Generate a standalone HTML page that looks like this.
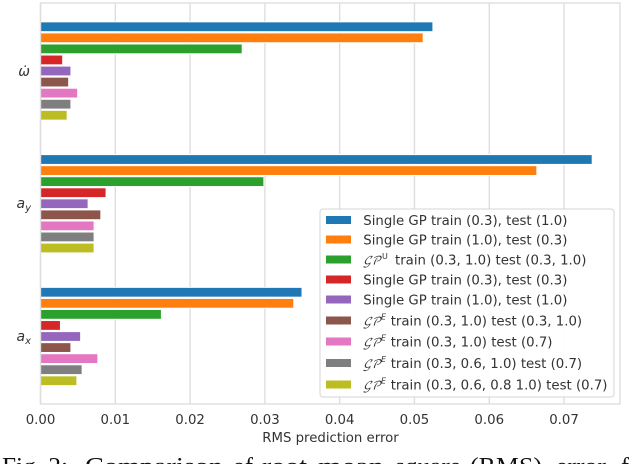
<!DOCTYPE html>
<html>
<head>
<meta charset="utf-8">
<title>RMS prediction error chart</title>
<style>
html,body{margin:0;padding:0;background:#fff;width:640px;height:464px;overflow:hidden}
svg{display:block}
text{font-family:"DejaVu Sans","Liberation Sans",sans-serif;fill:#333}
.tick,.leg{font-size:13.3px}
.sup{font-size:8px}
.gp{font-family:"DejaVu Math TeX Gyre","DejaVu Serif","Liberation Serif",serif;font-style:italic;font-size:11.5px}
.cap{font-family:"Liberation Serif",serif;font-size:24px;fill:#111}
</style>
</head>
<body>
<svg id="chart" width="640" height="464" viewBox="0 0 640 464" xmlns="http://www.w3.org/2000/svg">
  <g id="grid"></g>
  <g id="bars"></g>
  <g id="spines">
    <rect x="40.5" y="3" width="579.5" height="401" fill="none" stroke="#dedede" stroke-width="1.4"/>
  </g>
  <g id="xticks"></g>
  <text class="tick" x="330.5" y="442" text-anchor="middle">RMS prediction error</text>
  <g font-size="13">
    <text id="yl0" x="30" y="76" text-anchor="end" font-style="italic" font-size="14">ω&#775;</text>
    <text id="yl1" x="31" y="208" text-anchor="end" font-style="italic" font-size="14">a<tspan font-size="10" dy="3">y</tspan></text>
    <text id="yl2" x="31" y="341" text-anchor="end" font-style="italic" font-size="14">a<tspan font-size="10" dy="3">x</tspan></text>
  </g>
  <g id="legend">
    <rect x="320" y="209" width="294" height="188" rx="3" fill="#fff" fill-opacity="0.9" stroke="#d4d4d4" stroke-width="1"/>
    <g><rect x="326" y="216" width="25" height="8" fill="#1f77b4"/><text class="leg" x="363.3" y="225">Single GP train (0.3), test (1.0)</text></g>
    <g><rect x="326" y="235.5" width="25" height="8" fill="#ff7f0e"/><text class="leg" x="363.3" y="244.5">Single GP train (1.0), test (0.3)</text></g>
    <g><rect x="326" y="255.5" width="25" height="8" fill="#2ca02c"/><text class="gp" x="363" y="264.5" textLength="18" lengthAdjust="spacingAndGlyphs">𝒢𝒫</text><text class="sup" x="382" y="259">U</text><text class="leg" x="395" y="264.5">train (0.3, 1.0) test (0.3, 1.0)</text></g>
    <g><rect x="326" y="275.5" width="25" height="8" fill="#d62728"/><text class="leg" x="363.3" y="284.5">Single GP train (0.3), test (0.3)</text></g>
    <g><rect x="326" y="295.5" width="25" height="8" fill="#9467bd"/><text class="leg" x="363.3" y="304.5">Single GP train (1.0), test (1.0)</text></g>
    <g><rect x="326" y="316.5" width="25" height="8" fill="#8c564b"/><text class="gp" x="363" y="325.5" textLength="18" lengthAdjust="spacingAndGlyphs">𝒢𝒫</text><text class="sup" x="381" y="319.5" font-style="italic">E</text><text class="leg" x="390.7" y="325.5">train (0.3, 1.0) test (0.3, 1.0)</text></g>
    <g><rect x="326" y="337.5" width="25" height="8" fill="#e377c2"/><text class="gp" x="363" y="346.5" textLength="18" lengthAdjust="spacingAndGlyphs">𝒢𝒫</text><text class="sup" x="381" y="340.5" font-style="italic">E</text><text class="leg" x="390.7" y="346.5">train (0.3, 1.0) test (0.7)</text></g>
    <g><rect x="326" y="359" width="25" height="8" fill="#7f7f7f"/><text class="gp" x="363" y="368" textLength="18" lengthAdjust="spacingAndGlyphs">𝒢𝒫</text><text class="sup" x="381" y="362" font-style="italic">E</text><text class="leg" x="390.7" y="368">train (0.3, 0.6, 1.0) test (0.7)</text></g>
    <g><rect x="326" y="380.5" width="25" height="8" fill="#bcbd22"/><text class="gp" x="363" y="389.5" textLength="18" lengthAdjust="spacingAndGlyphs">𝒢𝒫</text><text class="sup" x="381" y="383.5" font-style="italic">E</text><text class="leg" x="390.7" y="389.5">train (0.3, 0.6, 0.8 1.0) test (0.7)</text></g>
  </g>
  <g>
    <text class="cap" x="2" y="474" textLength="66" lengthAdjust="spacingAndGlyphs">Fig. 2:</text>
    <text class="cap" x="85" y="474" textLength="138" lengthAdjust="spacingAndGlyphs">Comparison</text>
    <text class="cap" x="233" y="474" textLength="20" lengthAdjust="spacingAndGlyphs">of</text>
    <text class="cap" x="262" y="474" textLength="45" lengthAdjust="spacingAndGlyphs">root</text>
    <text class="cap" x="318" y="474" textLength="66" lengthAdjust="spacingAndGlyphs">mean</text>
    <text class="cap" x="395" y="474" textLength="66" lengthAdjust="spacingAndGlyphs">square</text>
    <text class="cap" x="470" y="474" textLength="72" lengthAdjust="spacingAndGlyphs">(RMS)</text>
    <text class="cap" x="556" y="474" textLength="50" lengthAdjust="spacingAndGlyphs">error</text>
    <text class="cap" x="621" y="474">f</text>
  </g>
</svg>
<script>
var categories = ['omega-dot', 'a-y', 'a-x'];
var tickValues = [0, 0.01, 0.02, 0.03, 0.04, 0.05, 0.06, 0.07];
var tickLabels = ['0.00', '0.01', '0.02', '0.03', '0.04', '0.05', '0.06', '0.07'];
var singleTrain03Test10 = [0.0524, 0.0737, 0.0349];
var singleTrain10Test03 = [0.0511, 0.0663, 0.0338];
var gpUTrainTestAll = [0.0269, 0.0298, 0.0161];
var singleTrain03Test03 = [0.0029, 0.0087, 0.0026];
var singleTrain10Test10 = [0.0040, 0.0063, 0.0053];
var gpETrainTestAll = [0.0037, 0.0080, 0.0040];
var gpETwoTest07 = [0.0049, 0.0071, 0.0076];
var gpEThreeTest07 = [0.0040, 0.0071, 0.0055];
var gpEFourTest07 = [0.0035, 0.0071, 0.0048];
var seriesValues = [singleTrain03Test10, singleTrain10Test03, gpUTrainTestAll, singleTrain03Test03, singleTrain10Test10, gpETrainTestAll, gpETwoTest07, gpEThreeTest07, gpEFourTest07];
var seriesColors = ['#1f77b4', '#ff7f0e', '#2ca02c', '#d62728', '#9467bd', '#8c564b', '#e377c2', '#7f7f7f', '#bcbd22'];

var NS = 'http://www.w3.org/2000/svg';
function xScale(v) { return 40.5 + v * 7479; }
function yScale(groupIndex, seriesIndex) { return 71 + groupIndex * 132.75 + (seriesIndex - 4) * 11.06; }

var gridLayer = document.getElementById('grid');
var barLayer = document.getElementById('bars');
var tickLayer = document.getElementById('xticks');

tickValues.forEach(function (v, i) {
  var x = xScale(v);
  var line = document.createElementNS(NS, 'line');
  
  
  line.setAttribute('x1', x);
  line.setAttribute('x2', x);
  line.setAttribute('y1', 3);
  line.setAttribute('y2', 404);
  line.setAttribute('stroke', '#dedede');
  line.setAttribute('stroke-width', 1.4);
  gridLayer.appendChild(line);
  var label = document.createElementNS(NS, 'text');
  
  
  label.setAttribute('class', 'tick');
  label.setAttribute('x', x);
  label.setAttribute('y', 424);
  label.setAttribute('text-anchor', 'middle');
  label.textContent = tickLabels[i];
  tickLayer.appendChild(label);
});

seriesValues.forEach(function (values, s) {
  values.forEach(function (v, g) {
    var bar = document.createElementNS(NS, 'rect');
    
    
    bar.setAttribute('x', xScale(0));
    bar.setAttribute('y', yScale(g, s) - 4.4);
    bar.setAttribute('width', xScale(v) - xScale(0));
    bar.setAttribute('height', 8.8);
    bar.setAttribute('fill', seriesColors[s]);
    bar.setAttribute('stroke', '#ffffff');
    bar.setAttribute('stroke-width', 2);
    bar.setAttribute('paint-order', 'stroke');
    barLayer.appendChild(bar);
  });
});
</script>
</body>
</html>
